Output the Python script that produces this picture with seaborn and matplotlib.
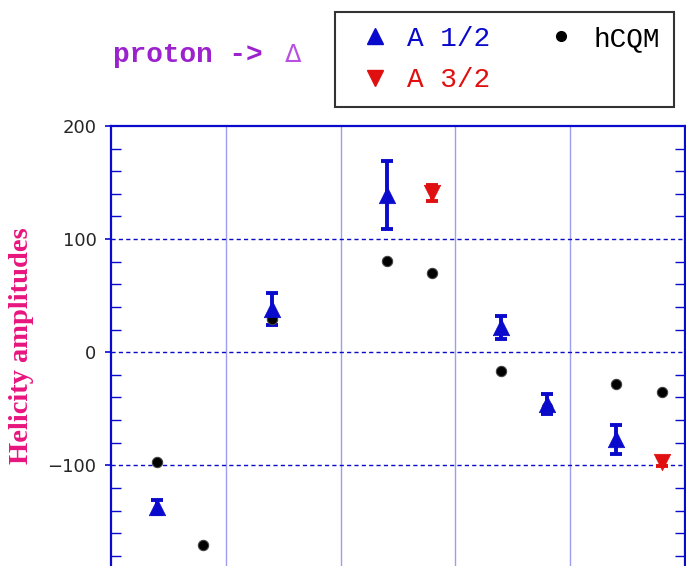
import matplotlib
matplotlib.use("Agg")
import matplotlib.pyplot as plt
import seaborn as sns
import numpy as np
import pandas as pd
from matplotlib.lines import Line2D
from matplotlib.ticker import MultipleLocator

# ---- data ----
a12_x = [0.4, 1.4, 2.4, 3.4, 3.8, 4.4]
a12_y = [-137, 38, 139, 22, -46, -77]
a12_err = [6, 14, 30, 10, 9, 13]

a32_x = [2.8, 4.8]
a32_y = [141, -97]
a32_err = [7, 4]

hcqm_x = [0.4, 0.8, 1.4, 2.4, 2.8, 3.4, 3.8, 4.4, 4.8]
hcqm_y = [-97, -170, 29, 81, 70, -17, -48, -28, -35]

y_ticks = [200, 100, 0, -100]
ref_lines = [100, 0, -100]
v_grid = [1, 2, 3, 4]

BLUE = "#0a0acc"
RED = "#e01010"
GRIDV = "#9e9ef0"
PURPLE = "#9b22cc"
PINK = "#e8157e"

sns.set_style("white")
plt.rcParams["font.family"] = ["DejaVu Sans"]

fig = plt.figure(figsize=(6.86, 5.66), dpi=100)
ax = fig.add_axes([111/686, 0.0, (685-111)/686, 1 - 126/566])

ax.set_xlim(0, 5)
ax.set_ylim(-189, 200)

for xv in v_grid:
    ax.axvline(xv, color=GRIDV, lw=1.0, zorder=0)
for yv in ref_lines:
    ax.axhline(yv, color=BLUE, lw=1.0, ls=(0, (3, 2.3)), zorder=0.5)

df12 = pd.DataFrame({"x": a12_x, "y": a12_y})
df32 = pd.DataFrame({"x": a32_x, "y": a32_y})
dfh = pd.DataFrame({"x": hcqm_x, "y": hcqm_y})

ax.errorbar(a12_x, a12_y, yerr=a12_err, fmt="none", ecolor=BLUE,
            elinewidth=2.8, capsize=4.5, capthick=2.8, zorder=2)
ax.errorbar(a32_x, a32_y, yerr=a32_err, fmt="none", ecolor=RED,
            elinewidth=2.8, capsize=4.5, capthick=2.8, zorder=2)

sns.scatterplot(data=dfh, x="x", y="y", ax=ax, marker="o", s=55,
                color="black", edgecolor="#444444", linewidth=0.8, zorder=3)
sns.scatterplot(data=df12, x="x", y="y", ax=ax, marker="^", s=140,
                color=BLUE, edgecolor=BLUE, linewidth=0.5, zorder=4)
sns.scatterplot(data=df32, x="x", y="y", ax=ax, marker="v", s=140,
                color=RED, edgecolor=RED, linewidth=0.5, zorder=4)

ax.set_xlabel("")
ax.set_ylabel("")
ax.set_xticks([])

ax.set_yticks(y_ticks)
ax.set_yticklabels([str(v).replace("-", "\u2212") for v in y_ticks], fontsize=13)
ax.yaxis.set_minor_locator(MultipleLocator(20))
ax.tick_params(axis="y", which="major", direction="out", length=4, width=1.2,
               color=BLUE, left=True, right=True, pad=6.5)
ax.tick_params(axis="y", which="minor", direction="in", length=7, width=1.0,
               color=BLUE, left=True, right=True)

for side in ["left", "top", "right"]:
    ax.spines[side].set_visible(True)
    ax.spines[side].set_color(BLUE)
    ax.spines[side].set_linewidth(1.6)
ax.spines["bottom"].set_visible(False)

# y label
fig.text(22/686, 1 - 346/566, "Helicity amplitudes", rotation=90,
         ha="center", va="center", color=PINK, fontsize=20.5,
         fontweight="bold", family=["Liberation Serif"])

# title
fig.text(113/686, 1 - 62/566, "proton ->", ha="left", va="baseline",
         color=PURPLE, fontsize=20, fontweight="bold",
         family=["Liberation Mono"])
fig.text(285/686, 1 - 62/566, "\u0394", ha="left", va="baseline",
         color="#b84fe0", fontsize=17.5, family=["DejaVu Sans"])

# legend
handles = [
    Line2D([], [], marker="^", color=BLUE, ls="none", markersize=11),
    Line2D([], [], marker="v", color=RED, ls="none", markersize=11),
    Line2D([], [], marker="o", color="black", ls="none", markersize=7),
]
labels = ["A 1/2", "A 3/2", "hCQM"]
leg = fig.legend(handles, labels, ncol=2, loc="upper left",
                 bbox_to_anchor=(335/686, 1 - 12/566),
                 prop={"family": "Liberation Mono", "size": 20},
                 frameon=True, fancybox=False, edgecolor="black",
                 handletextpad=0.22, columnspacing=1.62, labelspacing=0.56,
                 borderpad=0.5, handlelength=1.87, borderaxespad=0)
leg.get_frame().set_linewidth(1.5)
for t, c in zip(leg.get_texts(), [BLUE, RED, "black"]):
    t.set_color(c)

fig.savefig("out.png", dpi=100)
